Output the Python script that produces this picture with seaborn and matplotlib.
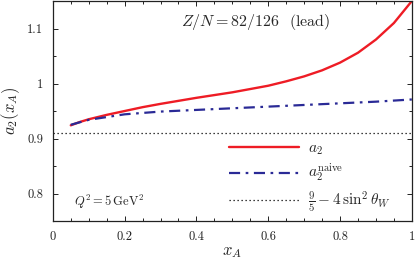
import numpy as np
import pandas as pd
import seaborn as sns
import matplotlib.pyplot as plt
from matplotlib.ticker import MultipleLocator

# values
x_a2 = [0.05, 0.075, 0.1, 0.125, 0.15, 0.2, 0.25, 0.3, 0.4, 0.5, 0.6, 0.65, 0.7, 0.75, 0.8, 0.85, 0.9, 0.95, 1.0]
a2 = [0.924, 0.930, 0.935, 0.939, 0.943, 0.950, 0.957, 0.963, 0.974, 0.984, 0.996, 1.004, 1.013, 1.024, 1.038, 1.056, 1.080, 1.110, 1.150]

x_naive = [0.05, 0.1, 0.2, 0.3, 0.4, 0.5, 0.6, 0.7, 0.8, 0.9, 1.0]
a2_naive = [0.925, 0.934, 0.944, 0.949, 0.952, 0.955, 0.958, 0.961, 0.964, 0.967, 0.971]

sin2_thetaW = 0.2227
pv_limit = 9 / 5 - 4 * sin2_thetaW

sns.set_theme(style="ticks")
plt.rcParams["font.family"] = ["cmr10"]
plt.rcParams["mathtext.fontset"] = "cm"
plt.rcParams["axes.formatter.use_mathtext"] = True

fig = plt.figure(figsize=(4.16, 2.6), dpi=100)
ax = fig.add_axes([0.127, 0.15, 0.863, 0.846])

df_a2 = pd.DataFrame({"x": x_a2, "y": a2})
df_naive = pd.DataFrame({"x": x_naive, "y": a2_naive})

sns.lineplot(data=df_a2, x="x", y="y", ax=ax, color="#ee1c25", lw=1.7,
             label=r"$a_2$")
sns.lineplot(data=df_naive, x="x", y="y", ax=ax, color="#2a2a96", lw=1.6,
             dashes=False, label=r"$a_2^{\mathrm{naive}}$")
ax.lines[1].set_dashes([5, 2.5, 1.2, 2.5])
ax.axhline(pv_limit, color="black", lw=0.9, ls=(0, (1, 2.2)),
           label=r"$\frac{9}{5} - 4\,\sin^2\theta_W$")

ax.set_xlim(0, 1)
ax.set_ylim(0.75, 1.15)
ax.xaxis.set_minor_locator(MultipleLocator(0.05))
ax.yaxis.set_minor_locator(MultipleLocator(0.05))
ax.set_xticks([0, 0.2, 0.4, 0.6, 0.8, 1.0])
ax.set_xticklabels(["0", "0.2", "0.4", "0.6", "0.8", "1"])
ax.set_yticks([0.8, 0.9, 1.0, 1.1])
ax.set_yticklabels(["0.8", "0.9", "1", "1.1"])
ax.tick_params(which="both", direction="in", top=True, right=True,
               labelsize=9, colors="#222222", width=0.7)
ax.tick_params(which="major", length=3.5, pad=7)
ax.tick_params(which="minor", length=2)
for s in ax.spines.values():
    s.set_linewidth(0.9)
    s.set_color("#222222")

ax.set_xlabel(r"$x_A$", fontsize=12, labelpad=1)
ax.set_ylabel(r"$a_2(x_A)$", fontsize=12, labelpad=4)

ax.text(0.565, 0.905, r"$Z/N = 82/126$  (lead)", transform=ax.transAxes,
        fontsize=11.5, ha="center", va="center")
ax.text(0.06, 0.085, r"$Q^2 = 5\,\mathrm{GeV}^2$", transform=ax.transAxes,
        fontsize=9, ha="left", va="center")

ax.legend(loc="lower left", bbox_to_anchor=(0.49, 0.03), frameon=False,
          fontsize=11, handlelength=4.6, handletextpad=0.6,
          labelspacing=0.35, borderpad=0, borderaxespad=0)

fig.savefig("out.png", dpi=100)
